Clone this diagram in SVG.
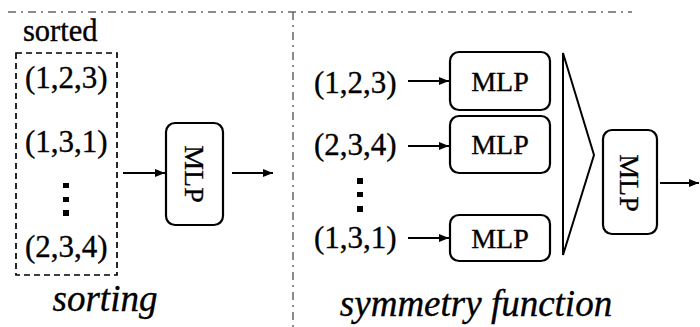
<svg xmlns="http://www.w3.org/2000/svg" width="700" height="327" viewBox="0 0 700 327">
  <defs>
    <marker id="arrow" viewBox="0 0 10 8" refX="10" refY="4" markerWidth="10" markerHeight="8" markerUnits="userSpaceOnUse" orient="auto">
      <path d="M0,0 L10,4 L0,8 Z" fill="#000"/>
    </marker>
  </defs>
  <style>
    .sep { fill: none; stroke: #666; stroke-width: 1.5; stroke-dasharray: 8 5 2 5; }
    .frame { fill: none; stroke: #000; stroke-width: 1.7; stroke-dasharray: 6 4; }
    .box { fill: #fff; stroke: #000; stroke-width: 2.2; }
    .edge { fill: none; stroke: #000; stroke-width: 2; marker-end: url(#arrow); }
    text { font-family: 'Liberation Serif', 'DejaVu Serif', serif; fill: #000; stroke: #000; stroke-width: 0.35; }
    .tuple { font-size: 31px; }
    .lbl { font-size: 28px; text-anchor: middle; }
    .cap { font-size: 37px; font-style: italic; text-anchor: middle; }
    .dot { fill: #000; }
  </style>

  <!-- panel separators -->
  <g id="separators">
    <path class="sep" d="M8,12 H632"/>
    <path class="sep" d="M293,12 V327"/>
  </g>

  <!-- sorting panel -->
  <g id="sorted-set">
    <text x="23" y="41" class="tuple" style="font-size:30.5px">sorted</text>
    <rect class="frame" x="16" y="53" width="101" height="222"/>
    <text x="25" y="88" class="tuple">(1,2,3)</text>
    <text x="25" y="152" class="tuple">(1,3,1)</text>
    <rect class="dot" x="63" y="183" width="6" height="5"/>
    <rect class="dot" x="63" y="197" width="6" height="5"/>
    <rect class="dot" x="63" y="210" width="6" height="6"/>
    <text x="25" y="257" class="tuple">(2,3,4)</text>
  </g>
  <g id="mlp-sort">
    <rect class="box" x="166" y="123" width="57" height="102" rx="9"/>
    <text class="lbl" transform="translate(194.5,174) rotate(90)" y="10">MLP</text>
  </g>
  <text id="caption-sorting" x="105" y="311" class="cap">sorting</text>

  <!-- symmetry function panel -->
  <g id="inputs">
    <text x="314" y="93" class="tuple">(1,2,3)</text>
    <text x="314" y="155" class="tuple">(2,3,4)</text>
    <rect class="dot" x="357" y="178" width="6" height="6"/>
    <rect class="dot" x="357" y="192" width="6" height="5"/>
    <rect class="dot" x="357" y="206" width="6" height="6"/>
    <text x="314" y="248" class="tuple">(1,3,1)</text>
  </g>
  <g id="mlp-1">
    <rect class="box" x="450" y="52" width="100" height="58" rx="9"/>
    <text x="500" y="91" class="lbl">MLP</text>
  </g>
  <g id="mlp-2">
    <rect class="box" x="450" y="116" width="100" height="57" rx="9"/>
    <text x="500" y="154" class="lbl">MLP</text>
  </g>
  <g id="mlp-3">
    <rect class="box" x="450" y="215" width="100" height="46" rx="9"/>
    <text x="500" y="248" class="lbl">MLP</text>
  </g>
  <g id="pool">
    <path d="M563,53 V255 L594,155 Z" fill="none" stroke="#000" stroke-width="2" stroke-linejoin="miter"/>
  </g>
  <g id="mlp-out">
    <rect class="box" x="603" y="130" width="54" height="104" rx="9"/>
    <text class="lbl" transform="translate(630,183) rotate(90)" y="10">MLP</text>
  </g>
  <text id="caption-symmetry" x="476" y="316" class="cap">symmetry function</text>

  <!-- connectors -->
  <g id="connectors">
    <path class="edge" d="M123,173 H165"/>
    <path class="edge" d="M232,173 H273"/>
    <path class="edge" d="M408,81 H449"/>
    <path class="edge" d="M408,146 H449"/>
    <path class="edge" d="M408,238 H449"/>
    <path class="edge" d="M660,183 H699"/>
  </g>
</svg>
